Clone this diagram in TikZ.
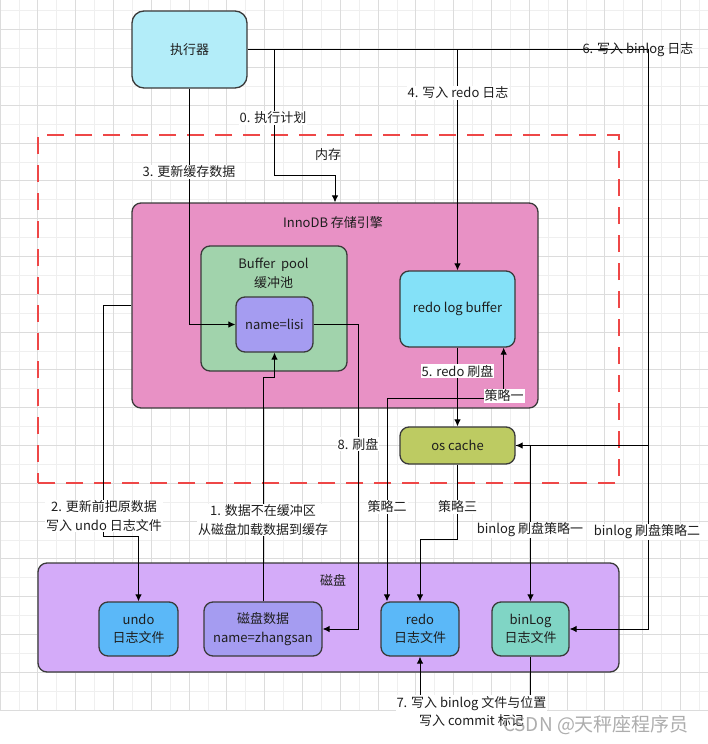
\documentclass[tikz,border=0pt]{standalone}
\usepackage{fontspec}
\setmainfont{Noto Sans CJK SC}
\usetikzlibrary{arrows.meta,calc}
\definecolor{gridl}{HTML}{EFEFEF}
\definecolor{gridd}{HTML}{DCDCDC}
\definecolor{bord}{HTML}{3A3A3A}
\definecolor{redd}{HTML}{EE4747}
\definecolor{cexec}{HTML}{B3EDF9}
\definecolor{cinno}{HTML}{E891C5}
\definecolor{cbp}{HTML}{A1D3AC}
\definecolor{clisi}{HTML}{A59CF1}
\definecolor{crlb}{HTML}{84E1F8}
\definecolor{cos}{HTML}{BDCB62}
\definecolor{cdisk}{HTML}{D4ABF9}
\definecolor{cfile}{HTML}{5BB8F8}
\definecolor{cbin}{HTML}{80D5C5}
\definecolor{txt}{HTML}{1E1E1E}
\begin{document}
\begin{tikzpicture}[x=1pt,y=-1pt,
  every node/.style={font=\fontsize{13}{18.5}\selectfont, text=txt},
  boxs/.style={draw=bord, line width=1.3pt, rounded corners=9pt, align=center, inner sep=0pt},
  conn/.style={draw=black, line width=0.9pt},
  arr/.style={conn, -{Latex[length=7pt,width=6.5pt]}},
  arrb/.style={conn, {Latex[length=7pt,width=6.5pt]}-{Latex[length=7pt,width=6.5pt]}},
  lab/.style={fill=white, inner sep=1pt, align=center},
  plain/.style={inner sep=1pt, align=center}]
\useasboundingbox (0,0) rectangle (708,744);
\fill[white] (0,0) rectangle (708,744);
% grid
\foreach \i in {0,...,37} {
  \draw[gridl, line width=0.8pt] ({\i*18.9},0) -- ({\i*18.9},710);
  \draw[gridl, line width=0.8pt] (0,{710-\i*18.9}) -- (708,{710-\i*18.9});
}
\foreach \i in {0,2,...,36} {
  \draw[gridd, line width=0.8pt] ({\i*18.9},0) -- ({\i*18.9},710);
  \draw[gridd, line width=0.8pt] (0,{710-\i*18.9}) -- (708,{710-\i*18.9});
}

% containers
\node[draw=redd, line width=2.2pt, dash pattern=on 17pt off 11pt, minimum width=581pt, minimum height=348pt, inner sep=0pt] (memory) at (328.5,309) {};
\node[boxs, fill=cinno, minimum width=406pt, minimum height=205pt] (innodb) at (335,305.5) {};
\node[boxs, fill=cbp, minimum width=146pt, minimum height=125pt] (bp) at (274,308.5) {};
\node[boxs, fill=cdisk, minimum width=581pt, minimum height=109pt] (disk) at (328.5,617.5) {};

\node[plain] (lmem) at (328,155) {内存};
\node[plain] (linno) at (333,223) {InnoDB 存储引擎};
\node[plain] (lbp) at (273.5,273.5) {Buffer\ \ pool\\缓冲池};
\node[plain] (ldisk) at (333,580) {磁盘};

% boxes
\node[boxs, fill=cexec, rounded corners=12pt, minimum width=115pt, minimum height=77pt] (exec) at (189.5,49.5) {执行器};
\node[boxs, fill=clisi, minimum width=77pt, minimum height=55pt] (lisi) at (274.5,324.5) {name=lisi};
\node[boxs, fill=crlb, minimum width=115pt, minimum height=76pt] (rlb) at (457.5,309) {redo log buffer};
\node[boxs, fill=cos, minimum width=115pt, minimum height=37pt] (oscache) at (457.5,445.5) {os cache};
\node[boxs, fill=cfile, minimum width=79pt, minimum height=54pt] (undo) at (138.5,629) {undo\\日志文件};
\node[boxs, fill=clisi, minimum width=118pt, minimum height=54pt] (diskdata) at (263,629) {磁盘数据\\name=zhangsan};
\node[boxs, fill=cfile, minimum width=78pt, minimum height=54pt] (redof) at (420,629) {redo\\日志文件};
\node[boxs, fill=cbin, minimum width=77pt, minimum height=54pt] (binlog) at (530.5,629) {binLog\\日志文件};

% connectors
\coordinate (r6) at (648,49.5);
\coordinate (c0) at (274.5,49.5);
\draw[arr] (exec.east) -- (r6) |- (binlog.east);
\draw[arr] (r6 |- oscache.east) -- (oscache.east);
\draw[arr] (c0) -- ++(0,125.5) -| (innodb.north);
\draw[arr] (exec.east -| rlb.north) -- (rlb.north);
\draw[arr] (exec.south) |- (lisi.west);
\draw[arr] (innodb.west) -- ++(-28,0) -- ++(0,230.5) -| (undo.north);
\draw[arr] (diskdata.north) -- ++(0,-224) -| (lisi.south);
\draw[arr] (lisi.east) -- ++(45,0) |- (diskdata.east);
\draw[arr] (rlb.south) -- (oscache.north);
\draw[arrb] ($(rlb.south east)+(-12,0)$) -- ++(0,51) -| ($(redof.north)+(-33,0)$);
\draw[arr] (oscache.south) -- ++(0,75) -| (redof.north);
\draw[arr] (oscache.east) -| (binlog.north);
\draw[arr] (binlog.south) -- ++(0,45) -| (redof.south);

% labels
\node[plain] (l6) at (638,50) {6. 写入 binlog 日志};
\node[lab] (l0) at (273,118) {0. 执行计划};
\node[lab] (l4) at (458,93) {4. 写入 redo 日志};
\node[lab] (l3) at (189,172) {3. 更新缓存数据};
\node[lab] (l2) at (104,516) {2. 更新前把原数据\\写入 undo 日志文件};
\node[lab] (l1) at (263,520) {1. 数据不在缓冲区\\从磁盘加载数据到缓存};
\node[lab] (l8) at (358,444) {8. 刷盘};
\node[lab] (l5) at (457.5,371) {5. redo 刷盘};
\node[lab] (ls1) at (504,396) {策略一};
\node[lab] (ls2) at (387,507) {策略二};
\node[lab] (ls3) at (457.5,507) {策略三};
\node[lab] (lb1) at (530,530) {binlog 刷盘策略一};
\node[lab] (lb2) at (647,532) {binlog 刷盘策略二};
\node[lab] (l7) at (471.5,711.5) {7. 写入 binlog 文件与位置\\写入 commit 标记};

% watermark
\node[inner sep=0pt, font=\fontsize{19}{22}\selectfont, text=black!40, text opacity=0.8] (wm) at (596,725) {CSDN @天秤座程序员};
\end{tikzpicture}
\end{document}
